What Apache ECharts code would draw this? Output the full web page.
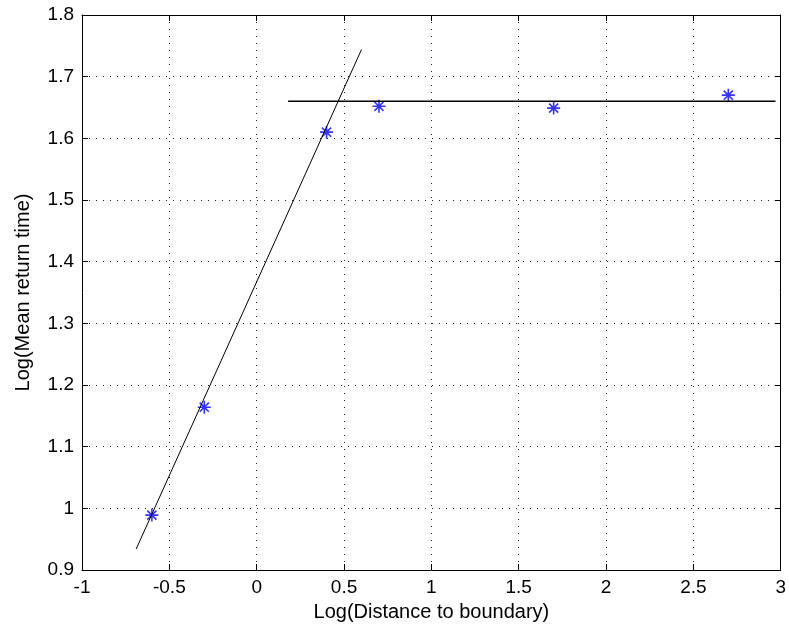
<!DOCTYPE html>
<html><head><meta charset="utf-8">
<script src="https://cdn.jsdelivr.net/npm/echarts@6/dist/echarts.min.js"></script>
<style>html,body{margin:0;padding:0;background:#fff}#c{width:789px;height:630px}</style>
</head><body><div id="c"></div>
<script>
var pointsX = [-0.6, -0.3, 0.4, 0.7, 1.7, 2.7];
var pointsY = [0.989, 1.164, 1.610, 1.652, 1.649, 1.670];
var fitLineX = [-0.69, 0.6];
var fitLineY = [0.934, 1.744];
var flatLineX = [0.18, 2.97];
var flatLineY = [1.660, 1.660];
var xTicks = [-1, -0.5, 0, 0.5, 1, 1.5, 2, 2.5, 3];
var yTicks = [0.9, 1, 1.1, 1.2, 1.3, 1.4, 1.5, 1.6, 1.7, 1.8];

function zip(a, b) { return a.map(function (v, i) { return [v, b[i]]; }); }
var star = 'path://M0,-10L0,10M-10,0L10,0M-7,-7L7,7M-7,7L7,-7';
var font = 'Liberation Sans, Arial, sans-serif';
var gridLine = { color: '#222', type: [1, 6], width: 1 };
var chart = echarts.init(document.getElementById('c'));
function axisBase(extra) {
  return Object.assign({
    axisLine: { show: true, onZero: false, lineStyle: { color: '#000', width: 1 } },
    axisTick: { show: true, inside: true, length: 6, lineStyle: { color: '#000' } }
  }, extra);
}
chart.setOption({
  animation: false,
  backgroundColor: '#fff',
  grid: { left: 82, top: 15, right: 7, bottom: 60, containLabel: false },
  xAxis: [axisBase({
    type: 'value', min: -1, max: 3, interval: 0.5, position: 'bottom',
    name: 'Log(Distance to boundary)', nameLocation: 'middle', nameGap: 32,
    nameTextStyle: { fontFamily: font, fontSize: 20, color: '#000' },
    axisLabel: { fontFamily: font, fontSize: 19, color: '#000', margin: 8,
      formatter: function (v) { return String(xTicks.find(function (t) { return Math.abs(t - v) < 1e-9; })); } },
    splitLine: { show: true, lineStyle: gridLine }
  }), axisBase({
    type: 'value', min: -1, max: 3, interval: 0.5, position: 'top',
    axisLabel: { show: false }, splitLine: { show: false }
  })],
  yAxis: [axisBase({
    type: 'value', min: 0.9, max: 1.8, interval: 0.1, position: 'left',
    name: 'Log(Mean return time)', nameLocation: 'middle', nameGap: 49,
    nameTextStyle: { fontFamily: font, fontSize: 20, color: '#000' },
    axisLabel: { fontFamily: font, fontSize: 19, color: '#000', margin: 8,
      formatter: function (v) { return String(yTicks.find(function (t) { return Math.abs(t - v) < 1e-9; })); } },
    splitLine: { show: true, lineStyle: gridLine }
  }), axisBase({
    type: 'value', min: 0.9, max: 1.8, interval: 0.1, position: 'right',
    axisLabel: { show: false }, splitLine: { show: false }
  })],
  series: [{
    type: 'line', data: zip(fitLineX, fitLineY), symbol: 'none',
    lineStyle: { color: '#000', width: 1 }, silent: true
  }, {
    type: 'line', data: zip(flatLineX, flatLineY), symbol: 'none',
    lineStyle: { color: '#000', width: 1.5 }, silent: true
  }, {
    type: 'scatter', data: zip(pointsX, pointsY), symbol: star, symbolSize: 13,
    itemStyle: { color: 'none', borderColor: '#0000ff', borderWidth: 1.6 }
  }]
});
</script></body></html>
